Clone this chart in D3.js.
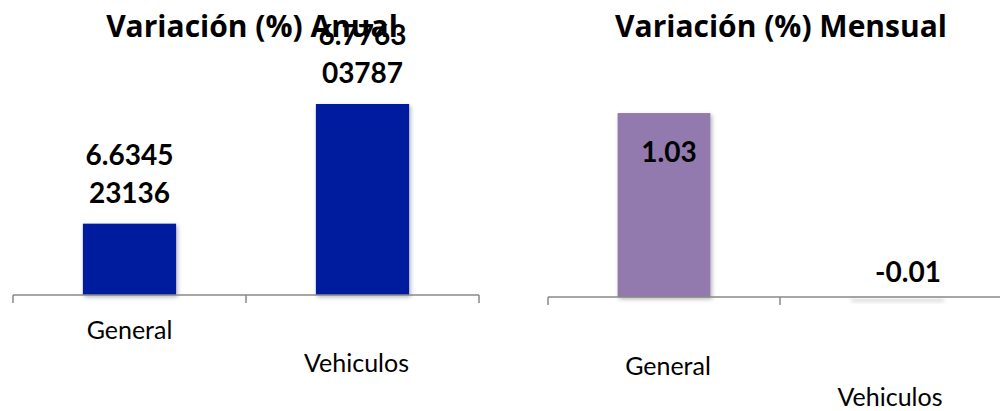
<!DOCTYPE html>
<html>
<head>
<meta charset="utf-8">
<script src="https://cdn.jsdelivr.net/npm/d3@7"></script>
<style>
  html, body { margin: 0; padding: 0; background: #fff; }
  svg { display: block; font-family: Lato, "Open Sans", sans-serif; }
</style>
</head>
<body>
<svg id="chart" width="1000" height="411"></svg>
<script>
  // data
  const categories = ["General", "Vehiculos"];
  const anualValues = [6.634523136, 6.776303787];
  const mensualValues = [1.03, -0.01];
  const anualDomain = [6.55, 6.8];
  const mensualDomain = [0, 1.2];
  const titles = ["Variación (%) Anual", "Variación (%) Mensual"];

  // styles
  const anualColors = ["#021c9e", "#021c9e"];
  const mensualColors = ["#9279ae", "#f4f4f4"];
  const axisColor = "#898989";

  const svg = d3.select("#chart");

  const defs = svg.append("defs");
  defs.append("filter").attr("id", "shadow")
      .attr("x", "-20%").attr("y", "-20%").attr("width", "140%").attr("height", "400%")
    .append("feDropShadow")
      .attr("dx", 1.5).attr("dy", 2).attr("stdDeviation", 2)
      .attr("flood-color", "#000").attr("flood-opacity", 0.3);

  function drawPanel(opts) {
    const g = svg.append("g");
    const x = d3.scaleBand().domain(categories).range(opts.xRange).padding(0);
    const y = d3.scaleLinear().domain(opts.domain).range(opts.yRange);
    const bw = x.bandwidth();
    const base = y(Math.max(opts.domain[0], 0));

    // bars
    g.selectAll("rect.bar").data(opts.values).enter().append("rect")
      .attr("class", "bar")
      .attr("x", (d, i) => x(categories[i]) + bw * 0.3)
      .attr("width", bw * 0.4)
      .attr("y", d => Math.min(y(d), base))
      .attr("height", d => Math.abs(base - y(d)))
      .attr("fill", (d, i) => opts.colors[i])
      .attr("filter", "url(#shadow)");

    // axis line + ticks at band edges
    g.append("line")
      .attr("x1", opts.xRange[0]).attr("x2", opts.xRange[1])
      .attr("y1", base).attr("y2", base)
      .attr("stroke", axisColor).attr("stroke-width", 1.5);
    const edges = categories.map(c => x(c)).concat([x(categories[categories.length - 1]) + bw]);
    g.selectAll("line.tick").data(edges).enter().append("line")
      .attr("class", "tick")
      .attr("x1", d => d).attr("x2", d => d)
      .attr("y1", base).attr("y2", base + 8)
      .attr("stroke", axisColor).attr("stroke-width", 1.5);

    // category labels (staggered like the original)
    g.selectAll("text.cat").data(categories).enter().append("text")
      .attr("class", "cat")
      .attr("x", (d, i) => x(d) + bw / 2 + opts.catDx[i])
      .attr("y", (d, i) => opts.catY[i])
      .attr("text-anchor", "middle")
      .attr("font-size", 25)
      .attr("fill", "#000")
      .text(d => d);

    // title
    g.append("text")
      .attr("x", opts.titleX).attr("y", 37)
      .attr("text-anchor", "middle")
      .attr("font-family", "'Open Sans', sans-serif")
      .attr("font-size", 30).attr("font-weight", "bold")
      .attr("fill", "#000")
      .text(opts.title);

    return { g, x, y, bw };
  }

  // left panel: annual
  const left = drawPanel({
    values: anualValues, domain: anualDomain, colors: anualColors,
    xRange: [13, 479], yRange: [295, 84],
    catY: [339, 372], catDx: [0, -6],
    title: titles[0], titleX: 252
  });

  // value labels, wrapped in two lines like Excel did
  anualValues.forEach((v, i) => {
    const s = String(v);
    const lines = [s.slice(0, 6), s.slice(6)];
    const cx = left.x(categories[i]) + left.bw / 2;
    const top = left.y(v);
    left.g.append("text")
      .attr("x", cx).attr("y", top - 21 - 38)
      .attr("text-anchor", "middle")
      .attr("font-size", 28).attr("font-weight", "bold")
      .selectAll("tspan").data(lines).enter().append("tspan")
        .attr("x", cx)
        .attr("dy", (d, j) => j === 0 ? 0 : 38)
        .text(d => d);
  });

  // right panel: monthly
  const right = drawPanel({
    values: mensualValues, domain: mensualDomain, colors: mensualColors,
    xRange: [548, 1012], yRange: [297, 297 - 1.2 * 178.6],
    catY: [375, 406], catDx: [4, -6],
    title: titles[1], titleX: 781
  });

  const locale = d3.formatLocale({ decimal: ".", thousands: ",", grouping: [3], currency: ["", ""], minus: "-" });
  const fmt = locale.format(".2f");
  mensualValues.forEach((v, i) => {
    const cx = right.x(categories[i]) + right.bw / 2;
    const inside = v > 0.5;
    right.g.append("text")
      .attr("x", cx + (inside ? 5 : 12))
      .attr("y", inside ? right.y(v) + 49 : right.y(0) - 15)
      .attr("text-anchor", "middle")
      .attr("font-size", 28).attr("font-weight", "bold")
      .attr("fill", "#000")
      .text(fmt(v));
  });
</script>
</body>
</html>
